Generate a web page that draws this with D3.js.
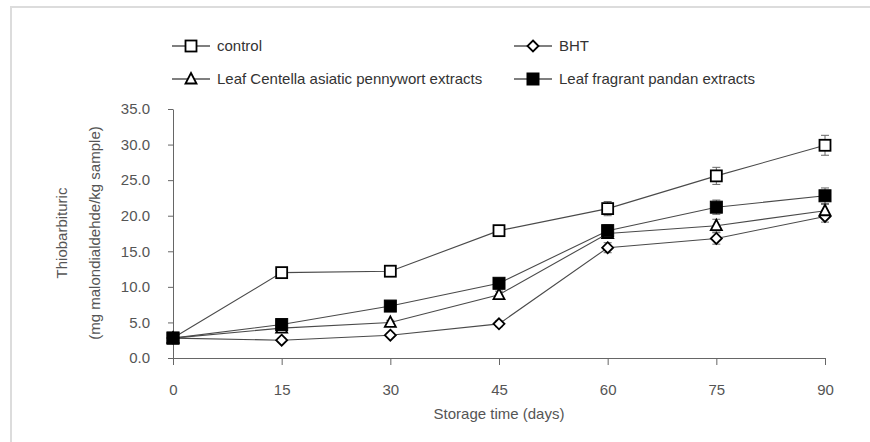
<!DOCTYPE html>
<html>
<head>
<meta charset="utf-8">
<script src="https://cdn.jsdelivr.net/npm/d3@7"></script>
<style>
  body{margin:0;background:#fff;}
  svg text{font-family:"Liberation Sans",Arial,sans-serif;}
</style>
</head>
<body>
<svg id="chart"></svg>
<script>
// storage days and TBA values (mg malondialdehyde/kg sample)
const days = [0, 15, 30, 45, 60, 75, 90];
const control     = [2.8, 12.0, 12.2, 17.9, 21.0, 25.6, 29.9];
const controlErr  = [0.3, 0.4, 0.4, 0.7, 1.0, 1.2, 1.4];
const bht         = [2.8, 2.5, 3.2, 4.8, 15.5, 16.8, 19.9];
const bhtErr      = [0.3, 0.3, 0.3, 0.4, 0.7, 0.8, 0.8];
const centella    = [2.8, 4.2, 5.0, 8.9, 17.5, 18.6, 20.7];
const centellaErr = [0.3, 0.3, 0.3, 0.5, 0.7, 0.9, 0.9];
const pandan      = [2.8, 4.7, 7.3, 10.5, 17.9, 21.2, 22.8];
const pandanErr   = [0.3, 0.3, 0.4, 0.5, 0.8, 1.0, 1.1];
const yTicks = [0, 5, 10, 15, 20, 25, 30, 35];

const seriesNames = ["control", "BHT", "Leaf Centella asiatic pennywort extracts", "Leaf fragrant pandan extracts"];
const seriesVals = [control, bht, centella, pandan];
const seriesErr = [controlErr, bhtErr, centellaErr, pandanErr];
const seriesMark = ["square", "diamond", "triangle", "filled"];

const W = 870, H = 442;
const svg = d3.select("#chart").attr("width", W).attr("height", H);

// light frame round the figure
svg.append("rect")
    .attr("x", 11).attr("y", 7)
    .attr("width", W + 20).attr("height", H + 20)
    .attr("fill", "none").attr("stroke", "#dcdcdc").attr("stroke-width", 2);

const x = d3.scaleLinear().domain([0, 90]).range([173, 825]);
const y = d3.scaleLinear().domain([0, 35]).range([358, 109]);

// axes
const xAxis = svg.append("g")
    .attr("transform", `translate(0,${y(0)})`)
    .call(d3.axisBottom(x).tickValues(days).tickSize(7).tickPadding(19).tickSizeOuter(0));
const yAxis = svg.append("g")
    .attr("transform", `translate(${x(0)},0)`)
    .call(d3.axisLeft(y).tickValues(yTicks).tickSize(5).tickPadding(18).tickSizeOuter(0)
        .tickFormat(d3.format(".1f")));
[xAxis, yAxis].forEach(g => {
    g.select(".domain").attr("stroke", "#666");
    g.selectAll(".tick line").attr("stroke", "#666");
    g.selectAll(".tick text").attr("fill", "#555").style("font-size", "15px");
});

svg.append("text")
    .attr("x", 499).attr("y", 419)
    .attr("text-anchor", "middle")
    .attr("fill", "#555").style("font-size", "15px")
    .text("Storage time (days)");
svg.append("text")
    .attr("transform", "translate(67,233) rotate(-90)")
    .attr("text-anchor", "middle")
    .attr("fill", "#555").style("font-size", "15px")
    .text("Thiobarbituric");
svg.append("text")
    .attr("transform", "translate(100,233) rotate(-90)")
    .attr("text-anchor", "middle")
    .attr("fill", "#555").style("font-size", "15px")
    .text("(mg malondialdehde/kg sample)");

function drawMark(g, kind, cx, cy){
    if(kind == "square"){
        g.append("rect").attr("x", cx - 5.5).attr("y", cy - 5.5).attr("width", 11).attr("height", 11)
            .attr("fill", "#fff").attr("stroke", "#000").attr("stroke-width", 1.8);
    }else if(kind == "filled"){
        g.append("rect").attr("x", cx - 6).attr("y", cy - 6).attr("width", 12).attr("height", 12)
            .attr("fill", "#000").attr("stroke", "#000").attr("stroke-width", 1);
    }else if(kind == "diamond"){
        g.append("path").attr("d", `M${cx},${cy - 5.5}L${cx + 5.5},${cy}L${cx},${cy + 5.5}L${cx - 5.5},${cy}Z`)
            .attr("fill", "#fff").attr("stroke", "#000").attr("stroke-width", 1.8);
    }else{
        g.append("path").attr("d", `M${cx},${cy - 6}L${cx + 5.5},${cy + 4.5}L${cx - 5.5},${cy + 4.5}Z`)
            .attr("fill", "#fff").attr("stroke", "#000").attr("stroke-width", 1.8);
    }
}

const line = d3.line().x((d, i) => x(days[i])).y(d => y(d));

// error bars first, then lines, then markers on top
seriesVals.forEach((vals, s) => {
    const g = svg.append("g");
    vals.forEach((v, i) => {
        const e = seriesErr[s][i];
        const cx = x(days[i]);
        g.append("line").attr("x1", cx).attr("x2", cx).attr("y1", y(v - e)).attr("y2", y(v + e))
            .attr("stroke", "#666").attr("stroke-width", 1);
        [v - e, v + e].forEach(t => {
            g.append("line").attr("x1", cx - 4).attr("x2", cx + 4).attr("y1", y(t)).attr("y2", y(t))
                .attr("stroke", "#666").attr("stroke-width", 1);
        });
    });
});
seriesVals.forEach(vals => {
    svg.append("path").attr("d", line(vals))
        .attr("fill", "none").attr("stroke", "#4a4a4a").attr("stroke-width", 1.1);
});
seriesVals.forEach((vals, s) => {
    const g = svg.append("g");
    vals.forEach((v, i) => drawMark(g, seriesMark[s], x(days[i]), y(v)));
});

// legend
const legendPos = [[191, 46], [533, 46], [191, 79], [533, 79]];
seriesNames.forEach((name, s) => {
    const [cx, cy] = legendPos[s];
    const g = svg.append("g");
    g.append("line").attr("x1", cx - 19).attr("x2", cx + 19).attr("y1", cy).attr("y2", cy)
        .attr("stroke", "#000").attr("stroke-width", 1.2);
    drawMark(g, seriesMark[s], cx, cy);
    g.append("text").attr("x", cx + 26).attr("y", cy + 5)
        .attr("fill", "#333").style("font-size", "15px")
        .text(name);
});
</script>
</body>
</html>
